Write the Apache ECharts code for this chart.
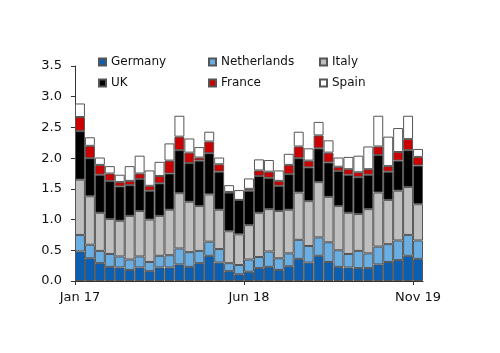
<!DOCTYPE html>
<html>
<head>
<meta charset="utf-8">
<script src="https://cdn.jsdelivr.net/npm/echarts@6/dist/echarts.min.js"></script>
<style>
  html, body { margin: 0; padding: 0; background: #fff; }
  #chart { width: 500px; height: 353px; }
</style>
</head>
<body>
<div id="chart"></div>
<script>
const months = [
  'Jan 17', 'Feb 17', 'Mar 17', 'Apr 17', 'May 17', 'Jun 17', 'Jul 17', 'Aug 17', 'Sep 17', 'Oct 17', 'Nov 17', 'Dec 17',
  'Jan 18', 'Feb 18', 'Mar 18', 'Apr 18', 'May 18', 'Jun 18', 'Jul 18', 'Aug 18', 'Sep 18', 'Oct 18', 'Nov 18', 'Dec 18',
  'Jan 19', 'Feb 19', 'Mar 19', 'Apr 19', 'May 19', 'Jun 19', 'Jul 19', 'Aug 19', 'Sep 19', 'Oct 19', 'Nov 19'
]
// boundary axis: one more slot so labels sit on the left edge of each bar
const boundaries = months.concat(['Dec 19'])
const tickLabels = ['Jan 17', 'Jun 18', 'Nov 19']

const germany = [0.48, 0.37, 0.29, 0.23, 0.22, 0.18, 0.22, 0.16, 0.22, 0.22, 0.27, 0.23,
  0.29, 0.41, 0.30, 0.16, 0.11, 0.15, 0.21, 0.23, 0.18, 0.24, 0.36, 0.30,
  0.41, 0.31, 0.23, 0.22, 0.21, 0.21, 0.27, 0.31, 0.34, 0.41, 0.36]
const netherlands = [0.27, 0.22, 0.20, 0.21, 0.18, 0.17, 0.18, 0.15, 0.19, 0.20, 0.26, 0.24,
  0.20, 0.23, 0.22, 0.13, 0.15, 0.20, 0.18, 0.25, 0.19, 0.21, 0.31, 0.27,
  0.30, 0.32, 0.27, 0.22, 0.28, 0.24, 0.29, 0.29, 0.32, 0.34, 0.30]
const italy = [0.90, 0.79, 0.62, 0.57, 0.58, 0.71, 0.74, 0.69, 0.65, 0.74, 0.90, 0.82,
  0.73, 0.77, 0.64, 0.52, 0.50, 0.56, 0.72, 0.69, 0.77, 0.71, 0.77, 0.73,
  0.90, 0.74, 0.72, 0.67, 0.60, 0.72, 0.88, 0.72, 0.81, 0.78, 0.59]
const uk = [0.79, 0.62, 0.62, 0.62, 0.56, 0.50, 0.52, 0.47, 0.53, 0.59, 0.70, 0.63,
  0.74, 0.67, 0.62, 0.63, 0.56, 0.56, 0.60, 0.51, 0.41, 0.58, 0.56, 0.55,
  0.55, 0.56, 0.57, 0.62, 0.60, 0.56, 0.61, 0.46, 0.49, 0.60, 0.63]
const france = [0.23, 0.20, 0.16, 0.12, 0.07, 0.07, 0.09, 0.08, 0.12, 0.21, 0.22, 0.17,
  0.05, 0.19, 0.12, 0.01, 0.00, 0.03, 0.09, 0.10, 0.08, 0.15, 0.19, 0.11,
  0.21, 0.16, 0.07, 0.09, 0.08, 0.09, 0.14, 0.09, 0.14, 0.18, 0.14]
const spain = [0.22, 0.14, 0.12, 0.12, 0.12, 0.24, 0.29, 0.25, 0.23, 0.28, 0.34, 0.23,
  0.17, 0.16, 0.11, 0.11, 0.16, 0.17, 0.18, 0.19, 0.17, 0.18, 0.24, 0.20,
  0.22, 0.20, 0.15, 0.20, 0.27, 0.37, 0.50, 0.48, 0.39, 0.38, 0.13]

const font = 'DejaVu Sans'

const chart = echarts.init(document.getElementById('chart'))

function bar (name, data, color) {
  return {
    name,
    type: 'bar',
    stack: 'total',
    xAxisIndex: 0,
    barCategoryGap: 0,
    animation: false,
    itemStyle: {
      color,
      borderColor: '#555',
      borderWidth: 1
    },
    data
  }
}

function legendCol (left, names) {
  return {
    orient: 'vertical',
    left,
    top: 55,
    itemWidth: 7,
    itemHeight: 7,
    itemGap: 7,
    padding: 0,
    icon: 'rect',
    textStyle: { fontFamily: font, fontSize: 12, color: '#111', lineHeight: 14 },
    data: names
  }
}

chart.setOption({
  backgroundColor: '#fff',
  grid: {
    left: 75,
    right: 77,
    top: 66,
    bottom: 72
  },
  legend: [
    legendCol(98, ['Germany', 'UK']),
    legendCol(208, ['Netherlands', 'France']),
    legendCol(319, ['Italy', 'Spain'])
  ],
  xAxis: [
    {
      type: 'category',
      data: months,
      axisLine: { lineStyle: { color: '#333', width: 1 } },
      axisTick: { show: false },
      axisLabel: { show: false }
    },
    {
      type: 'category',
      data: boundaries,
      boundaryGap: false,
      position: 'bottom',
      axisLine: { show: false },
      axisTick: {
        show: true,
        length: 4,
        lineStyle: { color: '#333' },
        interval: (i, v) => tickLabels.includes(v)
      },
      axisLabel: {
        interval: (i, v) => tickLabels.includes(v),
        fontFamily: font,
        fontSize: 13,
        color: '#111',
        margin: 10,
        padding: [0, 0, 0, 10]
      },
      splitLine: { show: false }
    }
  ],
  yAxis: {
    type: 'value',
    min: 0,
    max: 3.5,
    interval: 0.5,
    axisLine: { show: true, lineStyle: { color: '#333' } },
    axisTick: { show: true, length: 4, lineStyle: { color: '#333' } },
    splitLine: { show: false },
    axisLabel: {
      fontFamily: font,
      fontSize: 13,
      color: '#111',
      margin: 13,
      formatter: v => v.toFixed(1)
    }
  },
  series: [
    bar('Germany', germany, '#0b5fb3'),
    bar('Netherlands', netherlands, '#6aaee2'),
    bar('Italy', italy, '#bfbfbf'),
    bar('UK', uk, '#000000'),
    bar('France', france, '#cc0000'),
    bar('Spain', spain, '#ffffff')
  ]
})
</script>
</body>
</html>
